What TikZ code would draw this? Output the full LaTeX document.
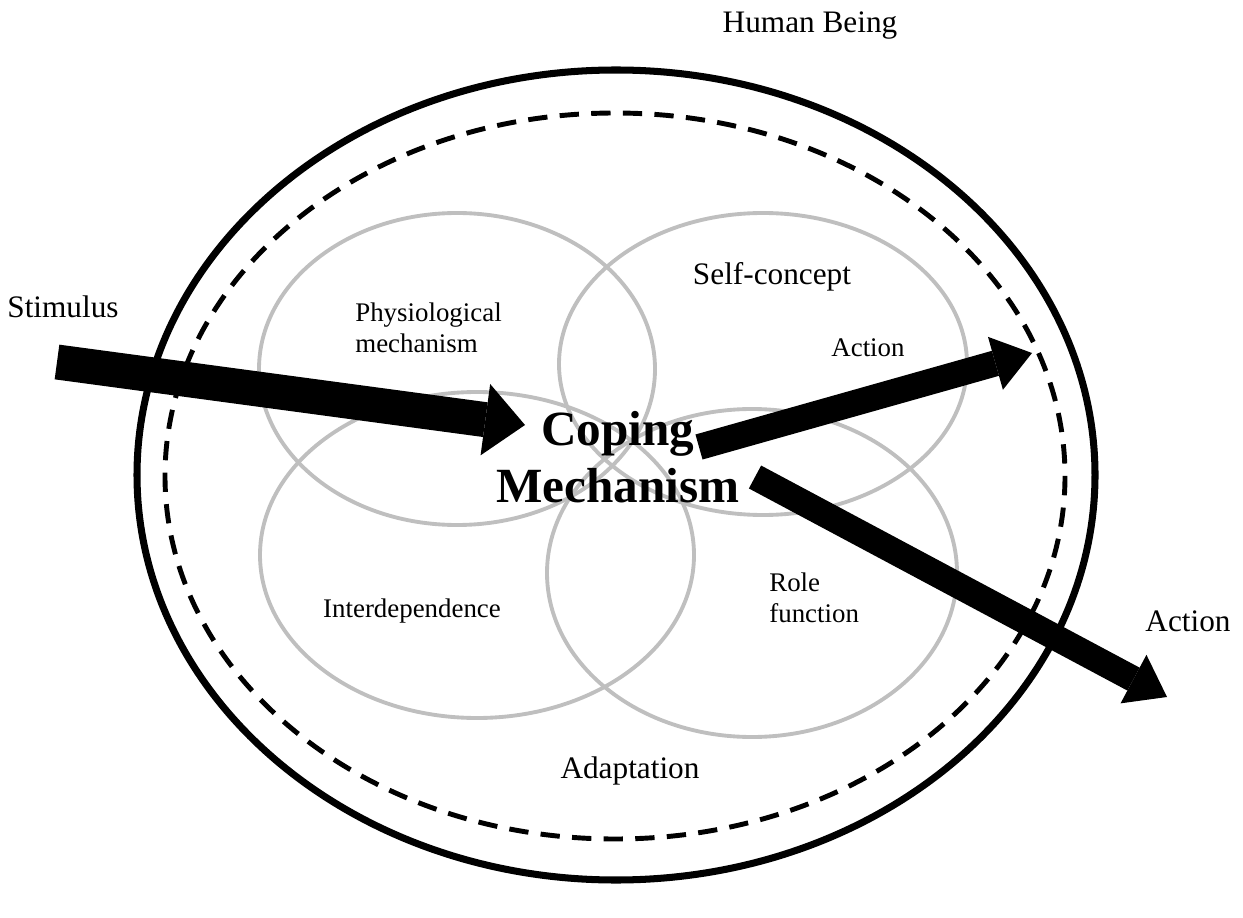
\documentclass[tikz,border=0pt]{standalone}
\usepackage{fontspec}
\setmainfont{Liberation Serif}
\usetikzlibrary{arrows.meta}

\begin{document}
\begin{tikzpicture}[x=0.02cm,y=-0.02cm]
% Styles
\tikzstyle{contour}=[line width=4pt]
\tikzstyle{pointille}=[line width=2.8pt,dash pattern=on 11pt off 7pt]
\tikzstyle{mode}=[line width=2.2pt,black!25]
\tikzstyle{grosse}=[line width=0.7cm,-{Triangle[length=0.8cm,width=1.44cm,line width=0pt]}]
\tikzstyle{fleche}=[line width=0.52cm,-{Triangle[length=0.76cm,width=1.1cm,line width=0pt]}]
\tikzstyle{grand}=[inner sep=0pt,font=\fontsize{17.8}{21}\selectfont]
\tikzstyle{petit}=[inner sep=0pt,align=left,font=\fontsize{15.3}{17.6}\selectfont]
\tikzstyle{centre}=[inner sep=0pt,align=center,font=\fontsize{28}{32.3}\selectfont\bfseries]
\useasboundingbox (0,0) rectangle (1243,918);
% Ellipses
\draw[mode] (457,369) ellipse [x radius=198, y radius=156];
\draw[mode] (763,364) ellipse [x radius=204, y radius=151];
\draw[mode] (477,555) ellipse [x radius=217, y radius=163];
\draw[mode] (752,573) ellipse [x radius=205, y radius=164];
\draw[contour] (616,475) ellipse [x radius=479, y radius=405];
\draw[pointille] (615,476) ellipse [x radius=450, y radius=363];
% Noeuds
\node[grand,anchor=base] (humain) at (810,33) {Human Being};
\node[grand,anchor=base] (stimulus) at (63,318) {Stimulus};
\node[petit,anchor=west] (physio) at (355,328) {Physiological\\mechanism};
\node[grand,anchor=base] (soi) at (772,285) {Self-concept};
\node[petit,anchor=base] (action1) at (868,357) {Action};
\node[centre] (coping) at (618,457) {Coping\\Mechanism};
\node[petit,anchor=base] (interdep) at (412,617) {Interdependence};
\node[petit,anchor=west] (role) at (769,598) {Role\\function};
\node[grand,anchor=base] (action2) at (1188,631) {Action};
\node[grand,anchor=base] (adapt) at (630,778) {Adaptation};
% Fleches
\coordinate (stimA) at (57,362);
\coordinate (stimB) at (525,425);
\coordinate (act1A) at (699,447);
\coordinate (act1B) at (1032,353);
\coordinate (act2A) at (755,477);
\coordinate (act2B) at (1167,697);
\draw[grosse] (stimA)--(stimB);
\draw[fleche] (act1A)--(act1B);
\draw[fleche] (act2A)--(act2B);
\end{tikzpicture}
\end{document}
